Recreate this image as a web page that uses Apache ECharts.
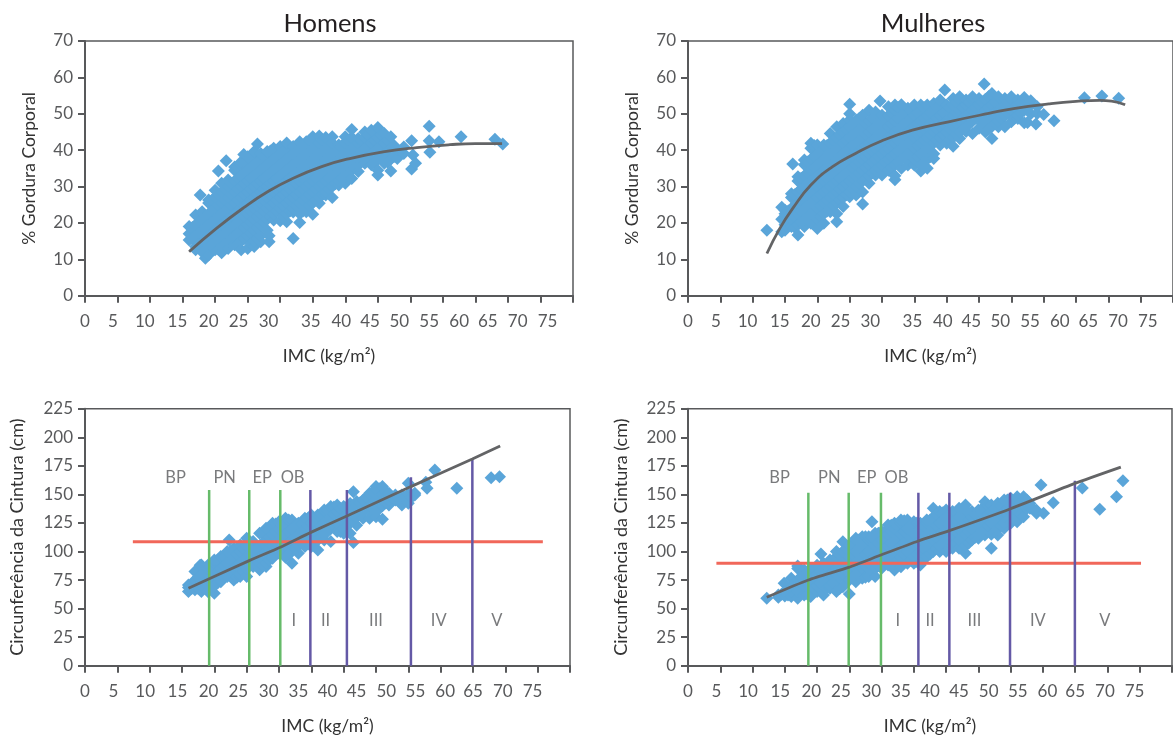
<!DOCTYPE html>
<html><head><meta charset="utf-8">
<style>html,body{margin:0;padding:0;background:#fff}#c{width:1173px;height:739px}</style>
<script src="https://cdn.jsdelivr.net/npm/echarts@6/dist/echarts.min.js"></script>
</head><body><div id="c"></div>
<script>
const tickTexts = ['0','5','10','15','20','25','30','35','40','45','50','55','60','65','70','75'];
const topLabelAt = [0,4.3,9.2,14.2,19,23.6,28.2,34.7,39.4,43.8,48.3,52.9,57.5,61.9,66.5,71.1];
const bottomLabelAt = [0,4.4,9.3,14.3,19.1,23.7,28.4,33,37.5,42,46.6,51.1,55.7,60,64.6,69.2];

// Dense clouds, column by column: [imc, y, y, ...]
const homensGordura = [
[16,15.3,17,19],[16.5,15.75,18.75],
[17,12.6,13.5,16.5,19.5,22.2],[17.5,14.25,17.25,20.25],[17.7,27.7],
[18,12,15,18,21,23.1],[18.5,10.3,12.75,15.75,18.75,21.75],
[19,11.2,13.5,16.5,19.5,22.5,25.5,26.3],[19.5,14.25,17.25,20.25,23.25,26.25],
[20,12.6,15,18,21,24,27,29],[20.5,12.75,15.75,18.75,21.75,24.75,27.75,34.3],
[21,11.8,13.5,16.5,19.5,22.5,25.5,28.5,30.9],[21.5,14.25,17.25,20.25,23.25,26.25,29.25],[21.7,37.1],
[22,13,15,18,21,24,27,30,31.8],[22.5,15.75,18.75,21.75,24.75,27.75,30.75],
[23,14,16.5,19.5,22.5,25.5,28.5,31.5,34.5,35.4],[23.5,14.25,17.25,20.25,23.25,26.25,29.25,32.25,35.25],
[24,12.6,15,18,21,24,27,30,33,36,36.8],[24.4,38.8],[24.5,15.75,18.75,21.75,24.75,27.75,30.75,33.75,36.75],
[25,13,16.5,19.5,22.5,25.5,28.5,31.5,34.5,37.5,38.2],[25.5,14.25,17.25,20.25,23.25,26.25,29.25,32.25,35.25,38.25],
[26,13.5,15,18,21,24,27,30,33,36,39,39.6],[26.5,15.75,18.75,21.75,24.75,27.75,30.75,33.75,36.75,41.7],
[27,14.8,16.5,19.5,22.5,25.5,28.5,31.5,34.5,37.5,39.1],[27.5,20.25,23.25,26.25,29.25,32.25,35.25,38.25],
[28,18,21,24,27,30,33,36,39,39.6],[28.3,14.8,16.5],[28.5,21.75,24.75,27.75,30.75,33.75,36.75,39.75],
[29,20.8,22.5,25.5,28.5,31.5,34.5,37.5,40.5],[29.5,23.25,26.25,29.25,32.25,35.25,38.25],
[30,20.6,24,27,30,33,36,39,41],[30.5,21.75,24.75,27.75,30.75,33.75,36.75,39.75],
[31,20.3,22.5,25.5,28.5,31.5,34.5,37.5,40.5,42],[31.5,23.25,26.25,29.25,32.25,35.25,38.25],
[32,15.7,23,24,27,30,33,36,39,41],[32.5,24.75,27.75,30.75,33.75,36.75,39.75],
[33,20.1,22.5,25.5,28.5,31.5,34.5,37.5,40.5,42.3],[33.5,23.25,26.25,29.25,32.25,35.25,38.25,41.25],
[34,23.1,24,27,30,33,36,39,42.3],[34.5,24.75,27.75,30.75,33.75,36.75,39.75,42.75],
[35,22.4,25.5,28.5,31.5,34.5,37.5,40.5,43.7],[35.5,26.25,29.25,32.25,35.25,38.25,41.25],
[36,25.4,27,30,33,36,39,42,43.9],[36.5,27.75,30.75,33.75,36.75,39.75,42.75],
[37,27.7,28.5,31.5,34.5,37.5,40.5,43.5],[37.5,29.25,32.25,35.25,38.25,41.25],
[38,27,30,33,36,39,42,43.7],[38.5,30.75,33.75,36.75,39.75],
[39,30.4,31.5,34.5,37.5,40.5,41.4],[39.5,32.25,35.25,38.25,41.25],
[40,30.9,33,36,39,42,43.7],[40.5,33.75,36.75,39.75,42.75],
[41,32.2,34.5,37.5,40.5,43.5,45.7],[41.5,35.25,38.25,41.25],
[42,34.1,36,39,42,43.2],[42.5,36.75,39.75,42.75],
[43,36.4,37.5,40.5,43.5,45],[43.5,38.25,41.25,44.25],
[44,36,39,42,45.5],[44.5,36.75,39.75,42.75,45],
[45,33.2,34.5,37.5,40.5,43.5,46.2],[45.5,38.25,41.25,44.25],
[46,36.4,39,42,44.6],[46.5,36.75,39.75,42.75],
[47,34.3,37.5,40.5,43.7],[47.5,38.25,41.25],
[48,37.7,40.2],[49,39.1,40.9],
[50.2,34.8,42.6],[50.4,38.7],[50.8,36.4],[52.9,46.6,42.6],[53,39.4],[54.4,42.3],[57.8,43.7],[63,43],[64.2,41.7]
];
const mulheresGordura = [
[12.2,18],
[14.5,17.6,21,24.3],
[15,18,19.5,22.5,23.5],[15.5,20.25,23.25],
[16,19,21,24,27,28],[16.2,36.2],[16.5,18.75,21.75,24.75,27.75],
[17,16.7,19.5,22.5,25.5,28.5,31.5,32.7],[17.5,20.25,23.25,26.25,29.25,32.25],
[18,19,21,24,27,30,33,36,37.3],[18.5,21.75,24.75,27.75,30.75,33.75,36.75],
[19,19.9,22.5,25.5,28.5,31.5,34.5,37.5,40.5,41.9],[19.5,20.25,23.25,26.25,29.25,32.25,35.25,38.25,41.25],
[20,18.5,21,24,27,30,33,36,39,41.4],[20.5,21.75,24.75,27.75,30.75,33.75,36.75,39.75],
[21,19.9,22.5,25.5,28.5,31.5,34.5,37.5,40.5,41.4],[21.5,23.25,26.25,29.25,32.25,35.25,38.25,41.25],
[22,23.1,24,27,30,33,36,39,42,44.6],[22.5,24.75,27.75,30.75,33.75,36.75,39.75,42.75],
[23,20.3,22.5,25.5,28.5,31.5,34.5,37.5,40.5,43.5,46.4],[23.5,26.25,29.25,32.25,35.25,38.25,41.25,44.25],
[24,24.5,27,30,33,36,39,42,45,47.3],[24.5,27.75,30.75,33.75,36.75,39.75,42.75,45.75],
[25,27.2,28.5,31.5,34.5,37.5,40.5,43.5,46.5,48.3,50,52.6],[25.5,29.25,32.25,35.25,38.25,41.25,44.25,47.25],
[26,27.7,30,33,36,39,42,45,48.3],[26.5,30.75,33.75,36.75,39.75,42.75,45.75,48.75],
[27,25.2,28.5,31.5,34.5,37.5,40.5,43.5,46.5,49.6],[27.5,32.25,35.25,38.25,41.25,44.25,47.25],
[28,30.9,33,36,39,42,45,48,51],[28.5,33.75,36.75,39.75,42.75,45.75,48.75],
[29,33.2,34.5,37.5,40.5,43.5,46.5,49.5,50.5],[29.5,35.25,38.25,41.25,44.25,47.25],[29.7,53.5],
[30,33.2,36,39,42,45,48,49.6],[30.5,36.75,39.75,42.75,45.75,48.75],
[31,34.5,37.5,40.5,43.5,46.5,49.5,51.9],[31.5,35.25,38.25,41.25,44.25,47.25,50.25],
[32,31.9,33,36,39,42,45,48,51,52.4],[32.5,36.75,39.75,42.75,45.75,48.75,51.75],
[33,35,37.5,40.5,43.5,46.5,49.5,52.5],[33.5,38.25,41.25,44.25,47.25,50.25],
[34,35.9,39,42,45,48,51.5],[34.5,36.75,39.75,42.75,45.75,48.75,51],
[35,35.9,37.5,40.5,43.5,46.5,49.5,52.4],[35.5,38.25,41.25,44.25,47.25,50.25],
[36,34.3,36,39,42,45,48,51,52.4],[36.5,36.75,39.75,42.75,45.75,48.75,51.75],
[37,35,37.5,40.5,43.5,46.5,49.5,52.4],[37.5,38.25,41.25,44.25,47.25,50.25],
[38,37.7,39,42,45,48,51,52.8],[38.5,42.75,45.75,48.75,51.75],
[39,41.4,43.5,46.5,49.5,52.5,53.8],[39.5,44.25,47.25,50.25],[39.7,56.5],
[40,41.9,45,48,51,52.4],[40.5,42.75,45.75,48.75,51.75],
[41,41.1,43.5,46.5,49.5,52.5,54.2],[41.5,44.25,47.25,50.25,53.25],
[42,43.2,45,48,51,54,54.7],[42.5,45.75,48.75,51.75],
[43,45.1,46.5,49.5,52.5,53.8],[43.5,47.25,50.25,53.25],
[44,44.6,48,51,54,54.7],[44.5,48.75,51.75],
[45,46,49.5,52.5,54.2],[45.5,47.25,50.25,53.25],[45.8,58.2],
[46,45,48,51,54],[46.5,45.75,48.75,51.75,54.75],
[47,43.2,46.5,49.5,52.5,55.6],[47.5,47.25,50.25,53.25],
[48,46.4,48,51,54,54.7],[48.5,48.75,51.75],
[49,46.4,49.5,52.5,54.2],[49.5,50.25,53.25],
[50,47.8,51,54,54.7],[50.5,48.75,51.75],
[51,48.7,49.5,52.5,53.8],[51.5,50.25,53.25],
[52,47.5,51,54,54.5],[52.5,47.6,51.75],
[53,50,52.5,53.6],[53.8,47.2],
[54,50.1,51.9],[55,49.8],[56.6,48.1],[61.3,54.4],[64,54.9],[66.6,54.3]
];
const homensCintura = [
[16,65,68.4,70.7],[16.5,67.5],[17,66.4,75,82.4],[17.5,67.5,77.5],[17.8,88],
[18,65,70,80,88.2],[18.5,72.5,82.5],[19,65,75,85,88],[19.5,67.5,77.5,87.5],[20,63.4,70,80,90,92.6],[20.5,72.5,82.5,92.5],
[21,73.6,75,85,95,95.5],[21.5,77.5,87.5,95],[22,78,80,90,100],[22.3,110],[22.5,82.5,92.5,100],
[23,75,85,95,102.8],[23.5,77.5,87.5,97.5],[24,78,80,90,100,105.7],[24.5,82.5,92.5,102.5],[25,78,85,95,105,111.6],[25.5,87.5,97.5,107.5],
[26,86.8,90,100,108.7],[26.5,92.5,102.5],[27,83.9,85,95,105,116],[27.5,87.5,97.5,107.5,116],[28,86.8,90,100,110,120.3],[28.5,92.5,102.5,112.5,120],
[29,94,95,105,115,124.7],[29.5,97.5,107.5,117.5,124],[30,98.4,100,110,120,126],[30.5,102.5,112.5,122.5],[31,95,105,115,125,129],[31.5,97.5,107.5,117.5,127.5],
[32,89.7,100,110,120,127.6],[32.5,102.5,112.5,122.5],[33,98.4,105,115,124.7],[33.5,107.5,117.5,124],[34,104.3,110,120,129],[34.5,112.5,122.5,129],
[35,104.3,115,125,132],[35.5,107.5,117.5,127.5],[36,101.4,110,120,130,132],[36.5,112.5,122.5,132.5],[37,110,115,125,135,136.4],[37.5,117.5,127.5,136],
[38,108.7,120,130,139.3],[38.5,122.5,132.5,139],[39,117.4,125,135,140.8],[39.5,117.5,127.5,137.5],[40,116,120,130,139.3],[40.5,122.5,132.5,139],
[41,116,125,135,142],[41.5,107.8,127.5,137.5,152.4],[42,123,130,140,143.7],[42.5,132.5,142.5],[43,129,135,145],[43.5,137.5,147.5],
[44,129,140,151],[44.5,132.5,142.5,152],[45,130.5,135,145,155,156.8],[45.5,137.5,147.5,155],[46,128.2,140,150,156.8],[46.5,142.5,152.5],
[47,140.8,145,151],[47.5,147.5],[48,145,149.5],[48.5,147],[49,140.8,145,149.5],[49.5,147.5],[50,142.2,150,159.7],[50.5,147.5],[51,149.5,151],
[52.7,160.5],[52.9,155.4],[54.1,171.4],[57.5,155.4],[62.8,164.6],[64.1,165.5]
];
const mulheresCintura = [
[12.2,59],[14,60,61.9],[14.5,62.5],[14.9,72.1],[15,61,65],[15.5,62,67.5],[16,60.5,70,76.5],[16.5,62.5,72.5],[17,59,65,75,85,87.3],[17.5,67.5,77.5],
[18,62,70,80,83.8],[18.5,62.5,72.5,82.5],[19,60.5,65,75,85],[19.5,67.5,77.5,85],[20,64.9,70,80,88],[20.5,67,72.5,82.5],[20.6,97.8],[21,62,65,75,85,89.6],[21.5,67.5,77.5,87.5],
[22,67.8,70,80,90,92.6],[22.5,72.5,82.5,92.5],[23,64.9,75,85,95,99.9],[23.5,67.5,77.5,87.5,97.5],[24,69.2,80,90,100,108.6],[24.5,72.5,82.5,92.5,102.5],[25,62.8,75,85,95,105.7],[25.5,77.5,87.5,97.5,105],
[26,73.6,80,90,100,110,111.5],[26.5,82.5,92.5,102.5,110],[27,76.5,85,95,105,113],[27.5,77.5,87.5,97.5,107.5,113],[28,78,90,100,110,113],[28.5,82.5,92.5,102.5,112.5,126.1],
[29,78,85,95,105,115.9],[29.5,87.5,97.5,107.5,116],[30,85.3,90,100,110,117.4],[30.5,92.5,102.5,112.5,117],[31,88.2,95,105,115,123.2],[31.5,87.5,97.5,107.5,117.5,123],
[32,83.8,90,100,110,120,124.7],[32.5,92.5,102.5,112.5,122.5],[33,86.7,95,105,115,125,127.6],[33.5,97.5,107.5,117.5,127],[34,89.6,100,110,120,127.6],[34.5,92.5,102.5,112.5,122.5],
[35,89.6,95,105,115,125,126],[35.5,97.5,107.5,117.5,125],[36,88.2,100,110,120,124.7],[36.5,92.5,102.5,112.5,122.5],[37,95.5,105,115,125,127.6],[37.5,97.5,107.5,117.5,127.5],
[38,99.9,110,120,130,137.8],[38.5,102.5,112.5,122.5,132.5],[39,99.9,105,115,125,134.9],[39.5,107.5,117.5,127.5,134],[40,99.9,110,120,130,136.3],[40.5,102.5,112.5,122.5,132.5],
[41,102.8,105,115,125,134.9],[41.5,107.5,117.5,127.5,134],[42,102.8,110,120,130,137.8],[42.5,102.5,112.5,122.5,132.5],[43,98.4,105,115,125,135,140.7],[43.5,107.5,117.5,127.5,134],
[44,110,120,130,134.9],[44.5,112.5,122.5,132.5],[45,111.5,115,125,135,136],[45.5,117.5,127.5,135],[46,114.4,120,130,140,143.6],[46.5,122.5,132.5,140],
[47,102.8,115,125,135,140.7],[47.5,117.5,127.5,137.5],[48,114.4,120,130,140,142.2],[48.5,122.5,132.5,140],[49,120.3,125,135,145],[49.5,127.5,137.5,145],
[50,124.7,130,140,146.5],[50.5,132.5,142.5],[51,126,135,145,148],[51.5,132.5,142.5],[52,130.5,140,148],[52.5,137.5,145],[53,137.8,142],[53.5,137.5],[54,133.4,136],
[54.7,158.2],[55.1,133.4],[56.6,142.7],[61.1,155.5],[63.8,137],[66.4,148],[67.4,162]
];

const homensGorduraTrend = [[16,12.1],[20.2,18.5],[24.4,24.2],[28,28.5],[32,32.3],[36.6,35.6],[40.7,37.7],[45.8,39.5],[51,40.7],[56.1,41.5],[60,41.8],[64.1,41.8]];
const mulheresGorduraTrend = [[12.2,11.6],[14.2,18.5],[16.2,24],[19,30.4],[22.3,35.4],[25.9,39.1],[30,42.6],[34.7,45.5],[40.3,47.8],[46.5,50.1],[50.6,51.5],[55.8,52.7],[60,53.4],[63.7,53.7],[65.5,53.5],[67.6,52.5]];
const homensCinturaTrend = [[16,67.8],[25.4,92],[30.2,103.7],[34.85,116.5],[40.5,131.1],[50.4,156.8],[59.9,181],[64.2,192.4]];
const mulheresCinturaTrend = [[12.2,59.9],[18.65,75],[24.9,86.1],[29.9,96.9],[35.7,109.2],[40.5,118.2],[49.9,137.2],[59.95,159.6],[67.07,173.9]];

// Cut-off lines: [imc, top]
const homensVerdes = [[19.2,153.9],[25.4,153.9],[30.2,153.9]];
const homensRoxas = [[34.85,153.9],[40.5,153.9],[50.4,165],[59.9,181]];
const homensVermelha = [7.4,70.8,108.5];
const mulheresVerdes = [[18.65,151.5],[24.9,151.5],[29.9,151.5]];
const mulheresRoxas = [[35.7,151.5],[40.5,151.5],[49.9,151.5],[59.95,162]];
const mulheresVermelha = [4.4,70.2,89.6];

const homensZonas = [['BP',14,164.6],['PN',21.6,164.6],['EP',27.4,164.6],['OB',32.1,164.6],['I',32.3,39.4],['II',37.2,39.4],['III',45,39.4],['IV',54.7,39.4],['V',63.7,39.4]];
const mulheresZonas = [['BP',14.2,164.6],['PN',21.9,164.6],['EP',27.7,164.6],['OB',32.3,164.6],['I',32.5,39.4],['II',37.5,39.4],['III',44.4,39.4],['IV',54.2,39.4],['V',64.6,39.4]];

const FONT = 'Lato';
const TXT = '#58595b';
const AX = '#58595b';
const expand = cols => cols.flatMap(c => c.slice(1).map(y => [c[0], y]));

const grids = [
  {left:85,top:41,width:488,height:254.7},
  {left:688,top:41,width:487,height:254.7},
  {left:85,top:408.7,width:485,height:257},
  {left:688,top:408.7,width:484,height:257}
].map(g => ({...g, show:true, borderColor:AX, borderWidth:1.5, backgroundColor:'transparent'}));

const xAxisOf = (i, at) => ({
  gridIndex:i, type:'value', min:0, max:75, interval:5, splitLine:{show:false},
  name:'IMC (kg/m²)', nameLocation:'middle', nameGap:52,
  nameTextStyle:{fontFamily:FONT,fontSize:17.5,color:'#333'},
  axisLine:{show:true,onZero:false,lineStyle:{color:AX,width:2}},
  axisTick:{show:true,length:7,lineStyle:{color:AX,width:2}},
  axisLabel:{customValues:at, margin:17, fontFamily:FONT, fontSize:17, color:TXT,
    formatter:(v,idx)=> idx===0 ? tickTexts[0]+' ' : tickTexts[at.indexOf(v)]}
});
const yAxisOf = (i, max, step, name, gap, size) => ({
  gridIndex:i, type:'value', min:0, max, interval:step, splitLine:{show:false},
  name, nameLocation:'middle', nameGap:gap,
  nameTextStyle:{fontFamily:FONT,fontSize:size,color:'#333'},
  axisLine:{show:true,onZero:false,lineStyle:{color:AX,width:2}},
  axisTick:{show:true,length:7,lineStyle:{color:AX,width:2}},
  axisLabel:{margin:12,fontFamily:FONT,fontSize:17,color:TXT}
});

const cloud = (i,cols)=>({type:'scatter',xAxisIndex:i,yAxisIndex:i,data:expand(cols),symbol:'diamond',symbolSize:13,
  itemStyle:{color:'#5aa5d9',opacity:1},silent:true,z:2,progressive:0,large:false});
const trend = (i,pts,s)=>({type:'line',xAxisIndex:i,yAxisIndex:i,data:pts,smooth:s,symbol:'none',lineStyle:{color:'#636466',width:2.8},z:6,silent:true});
const rule = (i,x,top,color)=>({type:'line',xAxisIndex:i,yAxisIndex:i,data:[[x,0],[x,top]],symbol:'none',lineStyle:{color,width:2.5},z:4,silent:true});
const redLine = (i,r)=>({type:'line',xAxisIndex:i,yAxisIndex:i,data:[[r[0],r[2]],[r[1],r[2]]],symbol:'none',lineStyle:{color:'#f1675a',width:3},z:3,silent:true});
const zones = (i,z)=>({type:'scatter',xAxisIndex:i,yAxisIndex:i,symbolSize:0,silent:true,z:7,
  data:z.map(d=>({value:[d[1],d[2]],label:{show:true,formatter:d[0],position:'inside',fontFamily:FONT,fontSize:16.5,color:TXT}}))});

const option = {
  animation:false, backgroundColor:'#fff',
  title:[
    {text:'Homens',left:325,top:6,textAlign:'center',textStyle:{fontFamily:FONT,fontSize:25.5,fontWeight:'normal',color:'#231f20'}},
    {text:'Mulheres',left:928,top:6,textAlign:'center',textStyle:{fontFamily:FONT,fontSize:25.5,fontWeight:'normal',color:'#231f20'}}
  ],
  grid:grids,
  xAxis:[xAxisOf(0,topLabelAt),xAxisOf(1,topLabelAt),xAxisOf(2,bottomLabelAt),xAxisOf(3,bottomLabelAt)],
  yAxis:[
    yAxisOf(0,70,10,'% Gordura Corporal',47,17.5),
    yAxisOf(1,70,10,'% Gordura Corporal',47,17.5),
    yAxisOf(2,225,25,'Circunferência da Cintura (cm)',59,18),
    yAxisOf(3,225,25,'Circunferência da Cintura (cm)',58,18)
  ],
  series:[
    cloud(0,homensGordura),trend(0,homensGorduraTrend,0.5),
    cloud(1,mulheresGordura),trend(1,mulheresGorduraTrend,0.5),
    cloud(2,homensCintura),redLine(2,homensVermelha),
    ...homensVerdes.map(r=>rule(2,r[0],r[1],'#66bb6a')),...homensRoxas.map(r=>rule(2,r[0],r[1],'#6459a6')),
    trend(2,homensCinturaTrend,0.2),zones(2,homensZonas),
    cloud(3,mulheresCintura),redLine(3,mulheresVermelha),
    ...mulheresVerdes.map(r=>rule(3,r[0],r[1],'#66bb6a')),...mulheresRoxas.map(r=>rule(3,r[0],r[1],'#6459a6')),
    trend(3,mulheresCinturaTrend,0.2),zones(3,mulheresZonas)
  ]
};
echarts.init(document.getElementById('c'),null,{renderer:'canvas'}).setOption(option);
</script></body></html>
